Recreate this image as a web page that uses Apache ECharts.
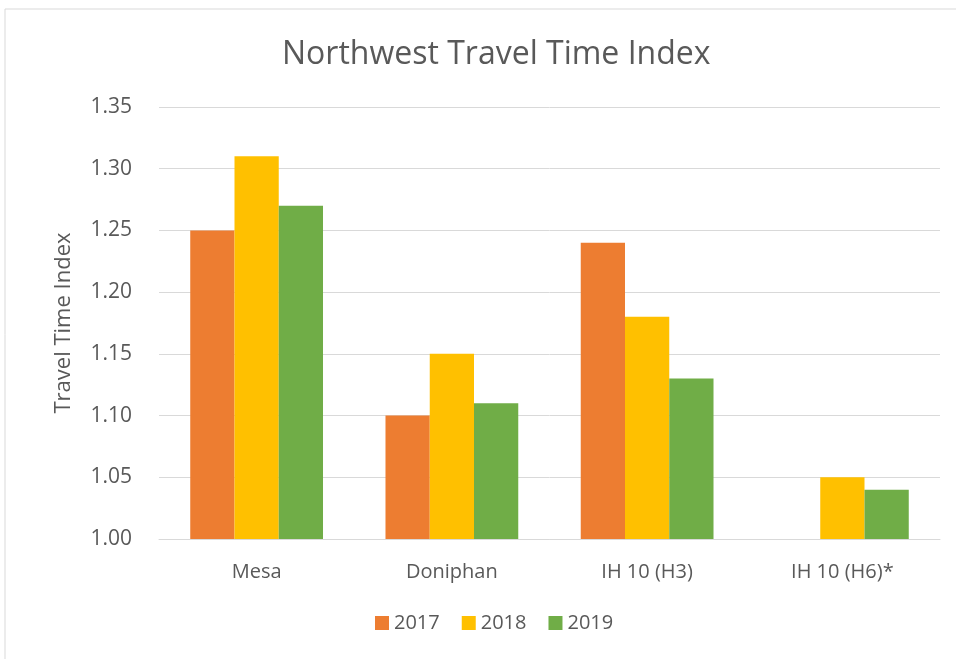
<!DOCTYPE html>
<html>
<head>
<meta charset="utf-8">
<script src="https://cdn.jsdelivr.net/npm/echarts@6/dist/echarts.min.js"></script>
<style>
  html, body { margin: 0; padding: 0; background: #ffffff; }
  #DataChart { width: 956px; height: 659px; }
</style>
</head>
<body>
<div id="DataChart"></div>
<script>
// chart data
var categories = ['Mesa', 'Doniphan', 'IH 10 (H3)', 'IH 10 (H6)*'];
var years = ['2017', '2018', '2019'];
var values2017 = [1.25, 1.10, 1.24, null];
var values2018 = [1.31, 1.15, 1.18, 1.05];
var values2019 = [1.27, 1.11, 1.13, 1.04];
var colors = ['#ed7d31', '#ffc000', '#70ad47'];

var myChart = echarts.init(document.getElementById('DataChart'));

var textColor = '#595959';
var fontName = '"Open Sans", "Liberation Sans", sans-serif';

var option = {
    animation: false,
    textStyle: { fontFamily: fontName },
    graphic: [{
        type: 'rect',
        shape: { x: 5, y: 9, width: 990, height: 700 },
        style: { fill: 'none', stroke: '#d9d9d9', lineWidth: 1 },
        silent: true
    }],
    title: {
        text: 'Northwest Travel Time Index',
        left: 277,
        top: 34,
        textStyle: {
            fontSize: 32,
            fontWeight: 'normal',
            color: textColor,
            fontFamily: fontName
        }
    },
    legend: {
        data: years,
        bottom: 21,
        left: 370,
        icon: 'rect',
        itemWidth: 14,
        itemHeight: 14,
        itemGap: 22,
        textStyle: { fontSize: 20, color: textColor }
    },
    grid: {
        left: 159,
        right: 16,
        top: 107,
        bottom: 120,
        containLabel: false
    },
    xAxis: {
        type: 'category',
        data: categories,
        axisTick: { show: false },
        axisLine: { lineStyle: { color: '#d9d9d9', width: 1 } },
        axisLabel: { fontSize: 20, color: textColor, margin: 23 }
    },
    yAxis: {
        type: 'value',
        min: 1.00,
        max: 1.35,
        interval: 0.05,
        name: 'Travel Time Index',
        nameLocation: 'middle',
        nameGap: 84,
        nameTextStyle: { fontSize: 22, color: textColor },
        axisLine: { show: false },
        axisTick: { show: false },
        axisLabel: {
            fontSize: 21,
            color: textColor,
            margin: 27,
            formatter: function (v) { return v.toFixed(2); }
        },
        splitLine: { lineStyle: { color: '#d9d9d9', width: 1 } }
    },
    series: [
        { name: years[0], type: 'bar', data: values2017, itemStyle: { color: colors[0] }, barGap: '0%', barCategoryGap: '32%' },
        { name: years[1], type: 'bar', data: values2018, itemStyle: { color: colors[1] }, barGap: '0%', barCategoryGap: '32%' },
        { name: years[2], type: 'bar', data: values2019, itemStyle: { color: colors[2] }, barGap: '0%', barCategoryGap: '32%' }
    ]
};

myChart.setOption(option);
</script>
</body>
</html>
